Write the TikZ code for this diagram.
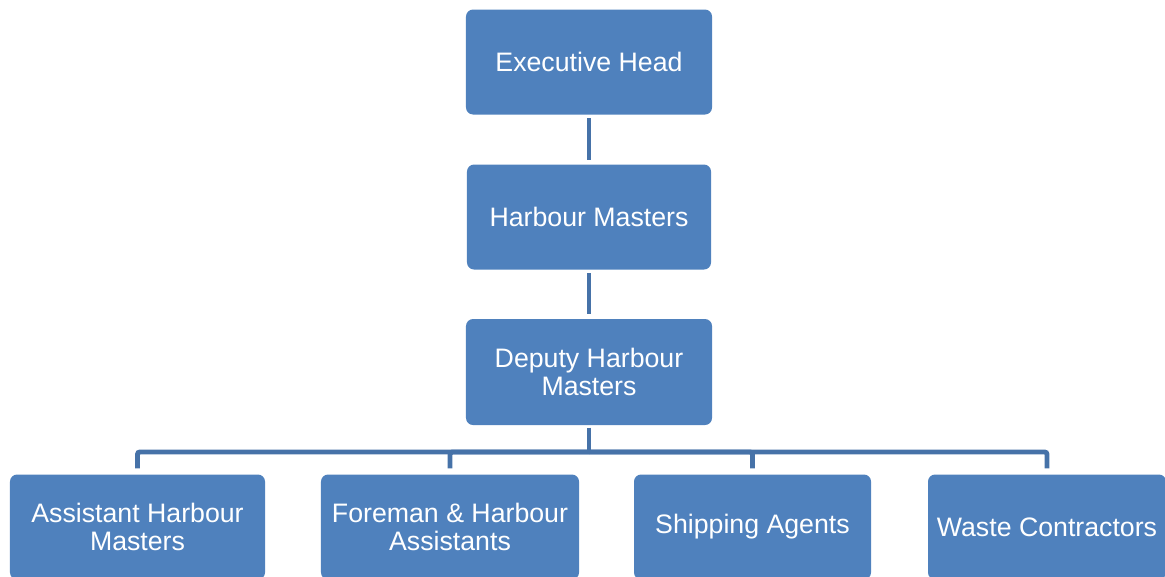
\documentclass[tikz,border=0pt]{standalone}
\usepackage{fontspec}
\setmainfont{Liberation Sans}
\usepackage{xcolor}
\usetikzlibrary{positioning}

\definecolor{boxblue}{HTML}{4F81BD}
\definecolor{linkblue}{HTML}{4672A8}

\tikzset{
  post/.style={draw=none, fill=boxblue, rounded corners=6pt, text=white,
    align=center, inner sep=0pt, font=\fontsize{22.8}{24}\selectfont},
  link/.style={draw=linkblue, line width=4.2pt},
}

\begin{document}
\begin{tikzpicture}[x=0.03cm,y=-0.03cm]
    % Canvas
    \useasboundingbox (0,0) rectangle (1165,576);
    \clip (0,0) rectangle (1165,576);

    % Posts
    \node[post, minimum width=7.38cm, minimum height=3.15cm] (exec) at (589,62) {Executive Head};
    \node[post, minimum width=7.32cm, minimum height=3.15cm] (hm) at (589,217) {Harbour Masters};
    \node[post, minimum width=7.38cm, minimum height=3.18cm] (dhm) at (589,372) {Deputy Harbour\\Masters};

    \node[post, minimum width=7.65cm, minimum height=3.15cm] (ahm) at (137.5,527) {Assistant Harbour\\Masters};
    \node[post, minimum width=7.74cm, minimum height=3.15cm] (fha) at (450,527) {Foreman \& Harbour\\Assistants};
    \node[post, minimum width=7.11cm, minimum height=3.15cm] (sa) at (752.5,527) {Shipping Agents};
    \node[post, minimum width=7.14cm, minimum height=3.15cm] (wc) at (1047,527) {Waste Contractors};

    % Connectors
    \coordinate (bus) at (589,452);
    \draw[link, shorten <=3pt, shorten >=4pt] (exec) -- (hm);
    \draw[link, shorten <=3pt, shorten >=4pt] (hm) -- (dhm);
    \draw[link, shorten <=2pt] (dhm) -- (bus);
    \foreach \sub in {ahm, fha, sa, wc}
      \draw[link, rounded corners=2pt, shorten >=5pt] (bus) -| (\sub);

\end{tikzpicture}
\end{document}
